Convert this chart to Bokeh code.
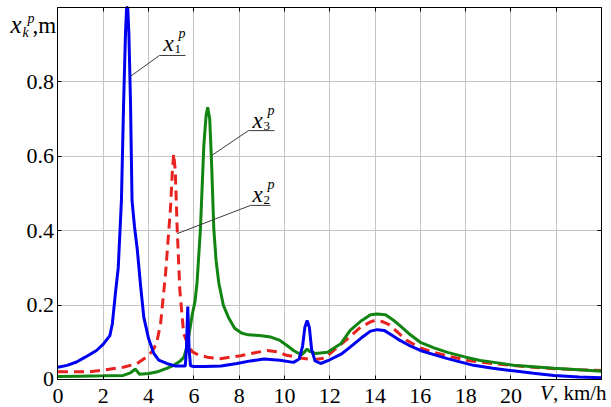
from bokeh.plotting import figure
from bokeh.models import Label, FixedTicker, Range1d, LinearAxis
from bokeh.embed import file_html
from bokeh.resources import INLINE

# ---- data ----
x1_v = [0, 0.4, 0.82, 1.2, 1.7, 2.0, 2.29, 2.4, 2.55, 2.66, 2.8, 2.9, 2.98, 3.03, 3.08, 3.13, 3.2, 3.27,
        3.38, 3.5, 3.65, 3.79, 4.0, 4.23, 4.45, 4.8, 5.2, 5.62, 5.67, 5.73, 5.79, 5.85, 6.0, 6.5, 7.2, 7.9,
        8.5, 9.1, 9.8, 10.4, 10.65, 10.8, 10.9, 11.0, 11.1, 11.2, 11.35, 11.6, 12.0, 12.5, 12.9, 13.4,
        13.8, 14.1, 14.4, 14.8, 15.1, 15.5, 16.0, 16.6, 17.2, 18.35, 19.2, 20.0, 21.0, 21.9, 23.0, 24.0]
x1_y = [0.033, 0.038, 0.047, 0.06, 0.078, 0.095, 0.118, 0.15, 0.24, 0.30, 0.48, 0.75, 0.93, 1.0, 1.0,
        0.93, 0.75, 0.48, 0.41, 0.35, 0.25, 0.167, 0.11, 0.07, 0.052, 0.043, 0.036, 0.036, 0.08, 0.196,
        0.08, 0.037, 0.035, 0.035, 0.036, 0.043, 0.05, 0.055, 0.052, 0.046, 0.055, 0.09, 0.14, 0.159,
        0.14, 0.08, 0.05, 0.043, 0.053, 0.068, 0.087, 0.112, 0.13, 0.134, 0.132, 0.117, 0.105, 0.092,
        0.078, 0.067, 0.056, 0.038, 0.03, 0.024, 0.017, 0.011, 0.007, 0.005]

x2_v = [0, 1.4, 2.0, 2.88, 3.47, 3.9, 4.15, 4.35, 4.53, 4.75, 4.97, 5.05, 5.11, 5.18, 5.26, 5.38, 5.55,
        5.7, 5.92, 6.2, 6.59, 7.17, 8.06, 8.7, 9.24, 9.7, 10.1, 10.7, 11.3, 11.8, 12.3, 12.8, 13.35, 13.8,
        14.0, 14.3, 14.6, 15.0, 15.4, 16.0, 16.6, 17.3, 18.1, 19.0, 20.0, 21.0, 21.9, 23.0, 24.0]
x2_y = [0.021, 0.021, 0.025, 0.033, 0.042, 0.06, 0.075, 0.096, 0.15, 0.285, 0.463, 0.56, 0.607, 0.56,
        0.41, 0.24, 0.123, 0.1, 0.075, 0.066, 0.06, 0.056, 0.064, 0.072, 0.078, 0.074, 0.065, 0.058,
        0.053, 0.058, 0.085, 0.11, 0.14, 0.155, 0.159, 0.156, 0.148, 0.127, 0.105, 0.085, 0.073, 0.062,
        0.051, 0.044, 0.038, 0.033, 0.029, 0.026, 0.024]

x3_v = [0, 1.0, 2.0, 2.88, 3.2, 3.42, 3.6, 4.0, 4.35, 4.8, 5.11, 5.4, 5.56, 5.7, 5.78, 5.92, 6.05, 6.14,
        6.29, 6.44, 6.54, 6.61, 6.7, 6.78, 6.88, 6.98, 7.1, 7.3, 7.54, 7.8, 8.1, 8.4, 8.9, 9.4, 9.8, 10.1,
        10.4, 10.75, 10.9, 11.0, 11.1, 11.37, 11.9, 12.5, 12.9, 13.4, 13.8, 14.1, 14.46, 14.8, 15.1, 15.5,
        16.0, 16.6, 17.2, 18.0, 18.65, 19.5, 20.1, 21.0, 21.9, 23.0, 24.0]
x3_y = [0.008, 0.009, 0.01, 0.011, 0.018, 0.028, 0.014, 0.016, 0.02, 0.03, 0.038, 0.05, 0.06, 0.09,
        0.118, 0.172, 0.21, 0.26, 0.405, 0.63, 0.71, 0.732, 0.7, 0.584, 0.405, 0.32, 0.26, 0.2, 0.165,
        0.138, 0.125, 0.12, 0.118, 0.114, 0.105, 0.092, 0.078, 0.066, 0.075, 0.082, 0.076, 0.07, 0.073,
        0.097, 0.132, 0.158, 0.174, 0.176, 0.174, 0.16, 0.145, 0.123, 0.1, 0.085, 0.073, 0.06, 0.051,
        0.044, 0.038, 0.034, 0.03, 0.026, 0.022]

x_ticks = [0, 2, 4, 6, 8, 10, 12, 14, 16, 18, 20, 22, 24]
x_tick_labels = ["0", "2", "4", "6", "8", "10", "12", "14", "16", "18", "20", "", ""]
y_ticks = [0, 0.2, 0.4, 0.6, 0.8, 1.0]
y_tick_labels = ["0", "0.2", "0.4", "0.6", "0.8", ""]

X_MIN, X_MAX = 0, 24
Y_MIN, Y_MAX = 0, 1.0

BLUE = "#0000f0"
RED = "#e8221e"
GREEN = "#128412"
SERIF = "Liberation Serif"

# The frame spans the whole canvas; the axes sit at fixed data locations so that
# the labels outside the data box are not clipped.
p = figure(width=611, height=407, output_backend="svg", toolbar_location=None,
           x_range=Range1d(-2.539, 24.441), y_range=Range1d(-0.0753, 1.0188),
           min_border=0, min_border_left=0, min_border_right=0,
           min_border_top=0, min_border_bottom=0)
p.background_fill_color = "white"
p.border_fill_color = "white"
p.outline_line_color = None


def style_axis(ax, ticks, labels, show_labels=True):
    ax.ticker = FixedTicker(ticks=ticks)
    ax.major_label_overrides = {t: (l if show_labels else "") for t, l in zip(ticks, labels)}
    ax.major_label_text_font = SERIF
    ax.major_label_text_font_size = "22px" if show_labels else "1px"
    ax.major_label_text_color = "black"
    ax.major_tick_in = 4
    ax.major_tick_out = 0
    ax.minor_tick_line_color = None
    ax.axis_line_color = "black"
    ax.axis_line_width = 1
    ax.major_tick_line_color = "black"
    ax.major_label_standoff = 3


xa = p.xaxis[0]
ya = p.yaxis[0]
xa.fixed_location = Y_MIN
ya.fixed_location = X_MIN
xa.bounds = (X_MIN, X_MAX)
ya.bounds = (Y_MIN, Y_MAX)
style_axis(xa, x_ticks, x_tick_labels)
style_axis(ya, y_ticks, y_tick_labels)
xa.major_label_standoff = 10
ya.major_label_standoff = 4

top = LinearAxis(fixed_location=Y_MAX, bounds=(X_MIN, X_MAX))
style_axis(top, x_ticks, x_tick_labels, show_labels=False)
p.add_layout(top, "above")
right = LinearAxis(fixed_location=X_MAX, bounds=(Y_MIN, Y_MAX))
style_axis(right, y_ticks, y_tick_labels, show_labels=False)
p.add_layout(right, "right")

p.xgrid.ticker = FixedTicker(ticks=x_ticks)
p.ygrid.ticker = FixedTicker(ticks=y_ticks)
p.xgrid.bounds = (X_MIN, X_MAX)
p.ygrid.bounds = (Y_MIN, Y_MAX)
try:
    p.xgrid.cross_bounds = (Y_MIN, Y_MAX)
    p.ygrid.cross_bounds = (X_MIN, X_MAX)
except Exception:
    pass
p.grid.grid_line_color = "#c4c4c4"
p.grid.grid_line_width = 1

p.line(x2_v, x2_y, line_color=RED, line_width=3, line_dash="10 6")
p.line(x3_v, x3_y, line_color=GREEN, line_width=3)
p.line(x1_v, x1_y, line_color=BLUE, line_width=3)

# leader lines for curve labels (data coordinates)
leaders = {
    "1": ([3.2, 4.48, 5.63], [0.815, 0.871, 0.871], (4.66, 0.890)),
    "3": ([6.78, 8.41, 9.56], [0.602, 0.669, 0.669], (8.59, 0.683)),
    "2": ([5.26, 8.5, 9.38], [0.392, 0.468, 0.468], (8.59, 0.484)),
}


def add_text(x, y, text, size, style="normal", dx=0, dy=0):
    # the label anchor sits at the bottom of the descent; lift it to the baseline
    lift = round(0.22 * size)
    p.add_layout(Label(x=x, y=y, text=text, x_offset=dx, y_offset=dy + lift,
                       text_font=SERIF, text_font_size=f"{size}px", text_font_style=style,
                       text_color="black", text_baseline="alphabetic", text_align="left"))


for idx, (lx, ly, (tx, ty)) in leaders.items():
    p.line(lx, ly, line_color="#3a3a3a", line_width=1)
    add_text(tx, ty, "x", 23, "italic")
    add_text(tx, ty, idx, 13, "normal", dx=11, dy=-4)
    add_text(tx, ty, "p", 14, "italic", dx=15, dy=12)

# y-axis label at the top-left
add_text(-2.1, 0.938, "x", 25, "italic")
add_text(-2.1, 0.938, "k", 14, "italic", dx=12, dy=-5)
add_text(-2.1, 0.938, "p", 14, "italic", dx=17, dy=9)
add_text(-2.1, 0.938, ",m", 23, "normal", dx=22, dy=0)

# x-axis label at the bottom-right
add_text(21.28, -0.0591, "V", 21, "italic", dy=3)
add_text(21.28, -0.0591, ", km/h", 21, "normal", dx=13, dy=3)

open("out.html", "w").write(file_html(p, INLINE))
